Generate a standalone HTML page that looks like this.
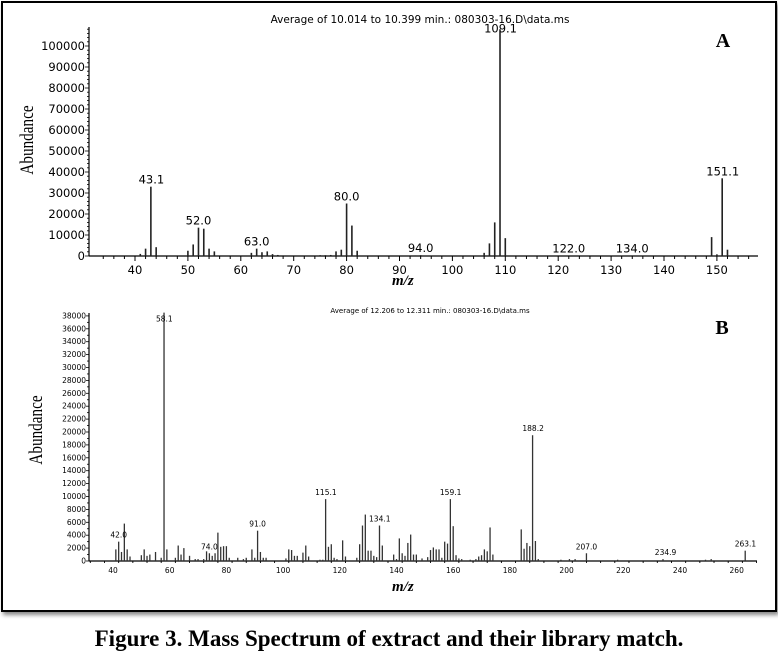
<!DOCTYPE html>
<html><head><meta charset="utf-8">
<style>
html,body{margin:0;padding:0;background:#fff;}
body{width:778px;height:657px;position:relative;overflow:hidden;}
#frame{position:absolute;left:1px;top:1px;width:772px;height:607px;border:2px solid #000;box-shadow:2px 3px 4px #888;background:#fff;}
svg{position:absolute;left:0;top:0;}
#cap{position:absolute;left:0;width:778px;top:626px;text-align:center;font:bold 23px "Liberation Serif",serif;color:#000;}
</style></head><body>
<div id="frame"></div>
<svg id="s" width="778" height="657" xmlns="http://www.w3.org/2000/svg"></svg>
<div id="cap">Figure 3. Mass Spectrum of extract and their library match.</div>
<script>
var s=document.getElementById('s'),o='';
function L(x1,y1,x2,y2,w,c){o+='<line x1="'+x1+'" y1="'+y1+'" x2="'+x2+'" y2="'+y2+'" stroke="'+(c||'#000')+'" stroke-width="'+(w||1)+'"/>';}
function T(x,y,t,sz,anc,extra){o+='<text x="'+x+'" y="'+y+'" font-size="'+sz+'" text-anchor="'+(anc||'middle')+'" font-family="DejaVu Sans,Liberation Sans,sans-serif" '+(extra||'')+'>'+t+'</text>';}
// ---------- Chart A
var ax0=89,ab=256,xa=function(m){return 135+(m-40)*5.29;},ya=function(v){return ab-v*0.0021;};
L(ax0,27,ax0,ab,1.2);L(ax0,ab,758,ab,1.2);
for(var v=0;v<=108000;v+=2000){var t=(v%10000==0)?4:2;L(ax0-t,ya(v),ax0,ya(v),0.8);}
for(var v=0;v<=100000;v+=10000)T(ax0-4,ya(v)+4,v,11.5,'end');
for(var m=34;m<=156;m+=2){var t=(m%10==0)?5:3;L(xa(m),ab,xa(m),ab+t,1);}
for(var m=40;m<=150;m+=10)T(xa(m),ab+18,m,11.5);
var A=[[41,1000],[42,3500],[43,33000],[44,4200],[50,2500],[51,5500],[52,13500],[53,13000],[54,3500],[55,2200],[62,1500],[63,3500],[64,1800],[65,2200],[66,900],[67,500],[68,300],[75,400],[76,400],[77,500],[78,2200],[79,3000],[80,25000],[81,14500],[82,2500],[93,300],[94,400],[106,1500],[107,6000],[108,16000],[109,108000],[110,8500],[122,300],[134,300],[149,9000],[150,800],[151,37000],[152,3000]];
A.forEach(function(p){L(xa(p[0]),ab,xa(p[0]),ya(p[1]),1.6,'#222');});
[[43.1,33000,'43.1'],[52,13500,'52.0'],[63,3500,'63.0'],[80,25000,'80.0'],[94,400,'94.0'],[109.1,105000,'109.1'],[122,300,'122.0'],[134,300,'134.0'],[151.1,37000,'151.1']].forEach(function(p){T(xa(p[0]),ya(p[1])-3,p[2],11.5);});
T(420,23,'Average of 10.014 to 10.399 min.: 080303-16.D\\data.ms',10.5);
o+='<text x="723" y="47" font-size="20" font-weight="bold" font-family="Liberation Serif,serif" text-anchor="middle">A</text>';
o+='<text transform="translate(33,140) rotate(-90) scale(0.8,1)" font-size="19" font-family="Liberation Serif,serif" text-anchor="middle">Abundance</text>';
o+='<text x="392" y="285" font-size="15" font-weight="bold" font-style="italic" font-family="Liberation Serif,serif">m/z</text>';
// ---------- Chart B
var bb=561,xb=function(m){return 113+(m-40)*2.835;},yb=function(v){return bb-v*0.00645;};
L(ax0,313,ax0,bb,1.2);L(ax0,bb,757,bb,1.2);
for(var v=0;v<=38000;v+=1000){var t=(v%2000==0)?3:2;L(ax0-t,yb(v),ax0,yb(v),0.8);}
for(var v=0;v<=38000;v+=2000)T(ax0-3,yb(v)+2.5,v,7.5,'end');
for(var m=32;m<=268;m+=5){var t=(m%20==0)?4:2;L(xb(m),bb,xb(m),bb+t,0.9);}
for(var m=40;m<=260;m+=20)T(xb(m),bb+12,m,7.5);
var B=[[41,1800],[42,3000],[43,1400],[44,5800],[45,1800],[46,700],[50,900],[51,1800],[52,800],[53,1000],[55,1400],[57,500],[58,38500],[59,1800],[62,500],[63,2400],[64,1000],[65,2000],[67,800],[69,300],[70,300],[72,300],[73,1500],[74,1200],[75,800],[76,1200],[77,4400],[78,2200],[79,2300],[80,2300],[81,500],[84,500],[86,300],[87,500],[89,1800],[90,500],[91,4700],[92,1400],[93,500],[94,500],[101,400],[102,1800],[103,1700],[104,800],[105,800],[107,1300],[108,2400],[109,700],[113,200],[114,200],[115,9600],[116,2200],[117,2600],[118,500],[119,300],[121,3200],[122,700],[126,500],[127,2600],[128,5500],[129,7200],[130,1600],[131,1600],[132,800],[133,600],[134,5500],[135,2400],[139,1000],[140,300],[141,3500],[142,1200],[143,800],[144,2800],[145,4100],[146,1000],[147,1000],[149,400],[151,600],[152,1700],[153,2100],[154,1800],[155,1800],[156,500],[157,3000],[158,2700],[159,9600],[160,5400],[161,900],[162,400],[163,300],[166,200],[168,300],[169,700],[170,900],[171,1800],[172,1500],[173,5200],[174,1000],[184,4900],[185,1900],[186,2800],[187,2300],[188,19500],[189,3100],[190,300],[198,200],[201,300],[203,300],[207,1200],[218,200],[234,300],[249,200],[251,300],[263,1600]];
B.forEach(function(p){L(xb(p[0]),bb,xb(p[0]),yb(p[1]),1.3,'#333');});
[[42,3000,'42.0'],[58.1,36500,'58.1'],[74,1200,'74.0'],[91,4700,'91.0'],[115.1,9600,'115.1'],[134.1,5500,'134.1'],[159.1,9600,'159.1'],[188.2,19500,'188.2'],[207,1200,'207.0'],[234.9,300,'234.9'],[263.1,1600,'263.1']].forEach(function(p){T(xb(p[0]),yb(p[1])-4,p[2],7.5);});
T(430,313,'Average of 12.206 to 12.311 min.: 080303-16.D\\data.ms',7);
o+='<text x="722" y="334" font-size="20" font-weight="bold" font-family="Liberation Serif,serif" text-anchor="middle">B</text>';
o+='<text transform="translate(42,430) rotate(-90) scale(0.8,1)" font-size="19" font-family="Liberation Serif,serif" text-anchor="middle">Abundance</text>';
o+='<text x="392" y="591" font-size="15" font-weight="bold" font-style="italic" font-family="Liberation Serif,serif">m/z</text>';
s.innerHTML=o;
</script>
</body></html>
